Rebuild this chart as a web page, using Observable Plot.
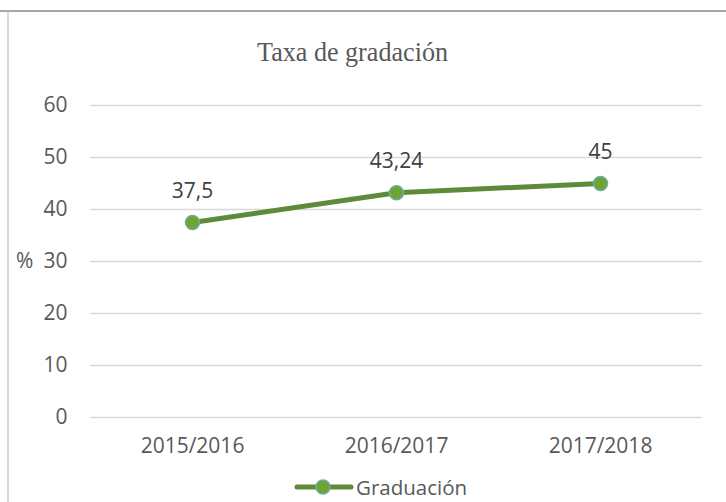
<!DOCTYPE html>
<html>
<head>
<meta charset="utf-8">
<script src="https://cdn.jsdelivr.net/npm/d3@7"></script>
<script src="https://cdn.jsdelivr.net/npm/@observablehq/plot@0.6"></script>
<style>
  html, body { margin: 0; padding: 0; background: #fff; }
  #wrap { position: relative; width: 726px; height: 502px; overflow: hidden; font-family: "Open Sans", sans-serif; }
  #topline { position: absolute; left: 0; top: 10px; width: 726px; height: 2px; background: #a6a6a6; }
  #leftline { position: absolute; left: 7px; top: 12px; width: 2px; height: 490px; background: #d9d9d9; }
  #title { position: absolute; left: 0; top: 0; }
  #ylab { position: absolute; left: 16px; top: 246px; font-size: 21px; color: #595959; }
  #legend { position: absolute; left: 294px; top: 472px; display: flex; align-items: center; font-size: 20.5px; color: #595959; }
  svg { display: block; }
</style>
</head>
<body>
<div id="wrap">
  <div id="chart"></div>
  <div id="topline"></div>
  <div id="leftline"></div>
  <svg id="title" width="726" height="80"></svg>
  <div id="ylab">%</div>
  <div id="legend"></div>
</div>
<script>
const categories = ["2015/2016", "2016/2017", "2017/2018"];
const values = [37.5, 43.24, 45];
const valueLabels = ["37,5", "43,24", "45"];
const yTicks = [0, 10, 20, 30, 40, 50, 60];
const seriesName = "Graduación";
const titleText = "Taxa de gradación";

const data = categories.map((c, i) => ({cat: c, v: values[i], label: valueLabels[i]}));

const lineColor = "#5e8b3a";
const markerFill = "#6ca52f";
const markerStroke = "#74a9a3";

const chart = Plot.plot({
  width: 726,
  height: 502,
  marginLeft: 90,
  marginRight: 24,
  marginTop: 105,
  marginBottom: 85,
  style: {fontFamily: "Open Sans, sans-serif", fontSize: "21px", background: "white"},
  x: {type: "point", domain: categories, padding: 0.5, label: null},
  y: {domain: [0, 60], label: null},
  marks: [
    Plot.ruleY(yTicks, {stroke: "#d9d9d9", strokeWidth: 1.3}),
    Plot.axisY(yTicks, {tickSize: 0, tickPadding: 23, fill: "#595959", fontSize: 21, label: null}),
    Plot.axisX({tickSize: 0, tickPadding: 21, fill: "#595959", fontSize: 21, label: null}),
    Plot.line(data, {x: "cat", y: "v", stroke: lineColor, strokeWidth: 5, strokeLinecap: "round", strokeLinejoin: "round"}),
    Plot.dot(data, {x: "cat", y: "v", r: 7, fill: markerFill, stroke: markerStroke, strokeWidth: 1.5}),
    Plot.text(data, {x: "cat", y: "v", text: "label", dy: -31, fill: "#404040", fontSize: 21, textAnchor: "middle", lineAnchor: "middle"})
  ]
});
document.getElementById("chart").appendChild(chart);

// title
d3.select("#title").append("text")
  .attr("x", 257).attr("y", 61)
  .attr("textLength", 191).attr("lengthAdjust", "spacingAndGlyphs")
  .attr("font-family", "Liberation Serif, serif").attr("font-size", 28)
  .attr("fill", "#595959").text(titleText);

// legend
const lg = d3.select("#legend");
const ls = lg.append("svg").attr("width", 61).attr("height", 30);
ls.append("line").attr("x1", 3).attr("x2", 57).attr("y1", 15).attr("y2", 15)
  .attr("stroke", lineColor).attr("stroke-width", 5).attr("stroke-linecap", "round");
ls.append("circle").attr("cx", 29).attr("cy", 15).attr("r", 7)
  .attr("fill", markerFill).attr("stroke", markerStroke).attr("stroke-width", 1.5);
lg.append("span").style("margin-left", "1px").text(seriesName);
</script>
</body>
</html>
